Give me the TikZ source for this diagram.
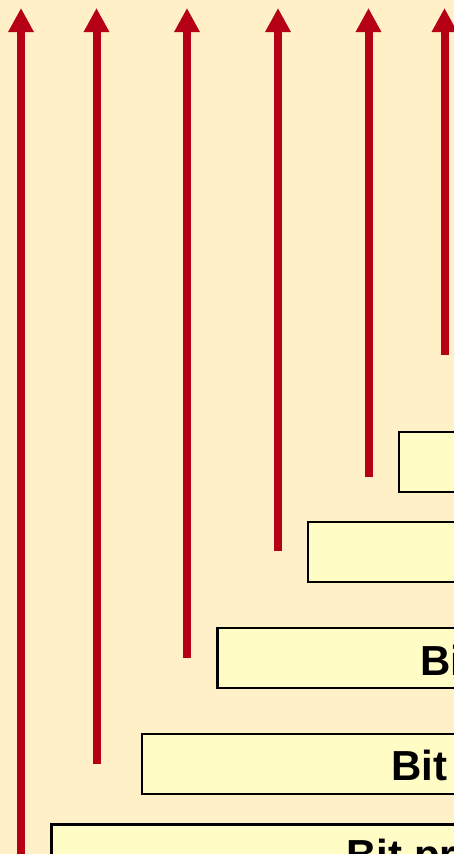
\documentclass[tikz,border=0pt]{standalone}
\usepackage{fontspec}
\setmainfont{Liberation Sans}
\usetikzlibrary{arrows.meta}
\definecolor{bg}{RGB}{255,240,200}
\definecolor{boxfill}{RGB}{255,252,198}
\definecolor{arrred}{RGB}{181,0,21}
\tikzset{
  bar/.style={draw=black, line width=2.5pt, fill=boxfill, anchor=north west,
    minimum width=600pt, minimum height=60pt, inner sep=0pt, outer sep=0pt},
  lbl/.style={anchor=base west, inner sep=0pt, outer sep=0pt,
    font=\fontsize{42}{42}\selectfont\bfseries},
  uparrow/.style={draw=arrred, line width=8pt, -{Triangle[width=24pt,length=24pt]}},
}
\begin{document}
\begin{tikzpicture}[x=1pt,y=-1pt]
\useasboundingbox (0,0) rectangle (454,854);
\clip (0,0) rectangle (454,854);
\fill[bg] (0,0) rectangle (454,854);
% boxes
\node[bar] (boxA) at (399,432) {};
\node[bar] (boxB) at (308,522) {};
\node[bar] (boxC) at (217.5,628) {};
\node[bar] (boxD) at (142,734) {};
\node[bar] (boxE) at (51.5,824.5) {};
% labels
\node[lbl] (txtC) at (420,675) {Bi};
\node[lbl] (txtD) at (391.5,780) {Bit};
\node[lbl] (txtE) at (346.5,869) {Bit pr};
% arrow ends
\coordinate (b1) at (21,870);   \coordinate (t1) at (21,8);
\coordinate (b2) at (96.5,764); \coordinate (t2) at (96.5,8);
\coordinate (b3) at (187,658);  \coordinate (t3) at (187,8);
\coordinate (b4) at (278,551);  \coordinate (t4) at (278,8);
\coordinate (b5) at (368.5,477);\coordinate (t5) at (368.5,8);
\coordinate (b6) at (444.5,355);\coordinate (t6) at (444.5,8);
\draw[uparrow] (b1) -- (t1);
\draw[uparrow] (b2) -- (t2);
\draw[uparrow] (b3) -- (t3);
\draw[uparrow] (b4) -- (t4);
\draw[uparrow] (b5) -- (t5);
\draw[uparrow] (b6) -- (t6);
\end{tikzpicture}
\end{document}
